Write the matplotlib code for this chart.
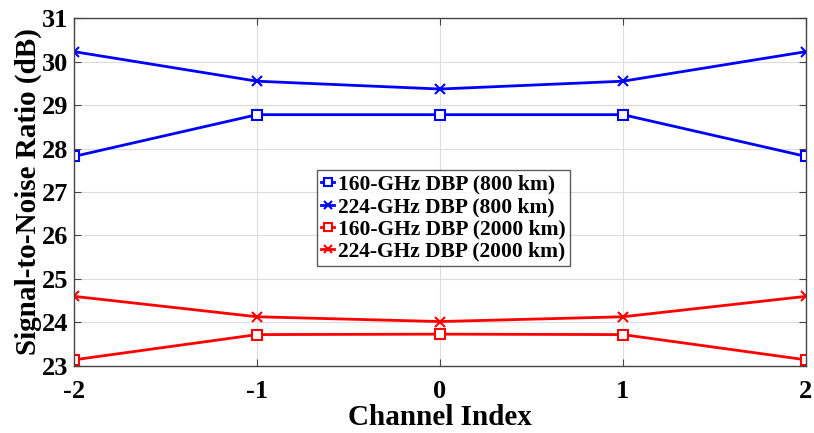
import matplotlib.pyplot as plt
import numpy as np

channel = [-2, -1, 0, 1, 2]
snr_160_800 = [27.82, 28.78, 28.78, 28.78, 27.82]
snr_224_800 = [30.23, 29.55, 29.37, 29.55, 30.23]
snr_160_2000 = [23.14, 23.72, 23.73, 23.72, 23.14]
snr_224_2000 = [24.60, 24.13, 24.02, 24.13, 24.60]

plt.rcParams['font.family'] = ['Liberation Serif', 'DejaVu Serif']
plt.rcParams['font.weight'] = 'bold'
plt.rcParams['axes.unicode_minus'] = False

fig = plt.figure(figsize=(8.14, 4.33), dpi=100)
ax = fig.add_axes([0.091, 0.155, 0.899, 0.803])

ax.plot(channel, snr_160_800, color='#0000ff', marker='s', mfc='white', ms=7, mew=1.5, lw=2,
        label='160-GHz DBP (800 km)')
ax.plot(channel, snr_224_800, color='#0000ff', marker='x', ms=7, mew=1.5, lw=2,
        label='224-GHz DBP (800 km)')
ax.plot(channel, snr_160_2000, color='#ff0000', marker='s', mfc='white', ms=7, mew=1.5, lw=2,
        label='160-GHz DBP (2000 km)')
ax.plot(channel, snr_224_2000, color='#ff0000', marker='x', ms=7, mew=1.5, lw=2,
        label='224-GHz DBP (2000 km)')

ax.set_xlim(-2, 2)
ax.set_ylim(23, 31)
ax.set_xticks(channel)
ax.set_yticks(np.arange(23, 32, 1))
ax.grid(True, color='#dddddd', lw=0.8)
ax.tick_params(direction='in', top=True, right=True, labelsize=19, length=5, color='#444444')
ax.tick_params(axis='x', pad=10)
ax.tick_params(axis='y', pad=4)
for lab in ax.get_xticklabels() + ax.get_yticklabels():
    lab.set_fontweight('bold')
for s in ax.spines.values():
    s.set_color('#444444')
    s.set_linewidth(1)

ax.set_xlabel('Channel Index', fontsize=21, fontweight='bold', labelpad=1)
ax.set_ylabel('Signal-to-Noise Ratio (dB)', fontsize=21, fontweight='bold', labelpad=0)

leg = ax.legend(loc='center', bbox_to_anchor=(0.505, 0.425), fontsize=15.5, frameon=True,
                fancybox=False, edgecolor='#333333', handlelength=0.6, handletextpad=0.2,
                borderpad=0.2, labelspacing=0.1, borderaxespad=0, markerscale=0.8)
leg.get_frame().set_linewidth(1)

fig.savefig('out.png', dpi=100)
